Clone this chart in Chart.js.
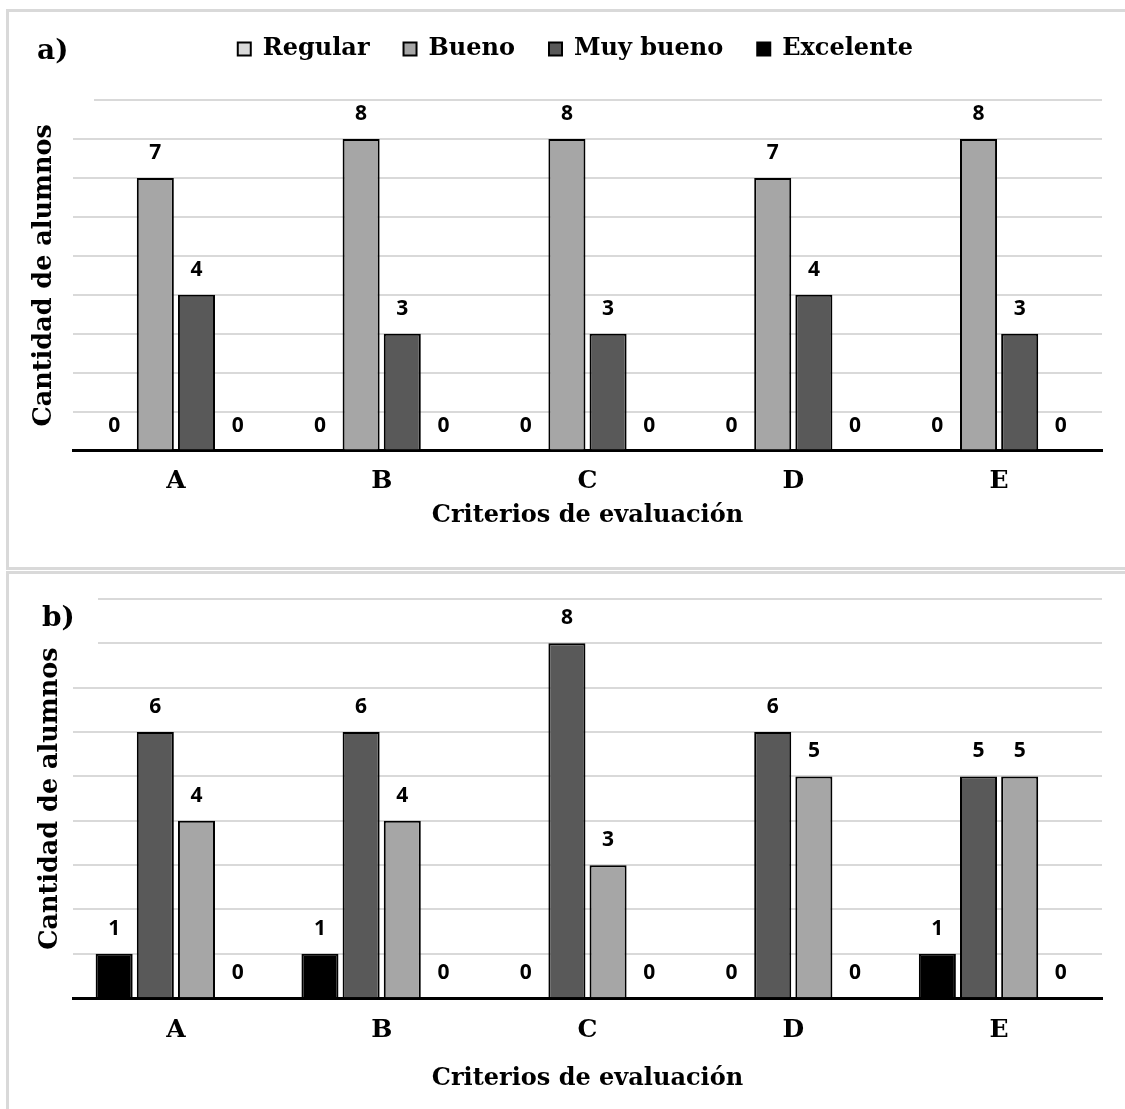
<!DOCTYPE html>
<html>
<head>
<meta charset="utf-8">
<script src="https://cdn.jsdelivr.net/npm/chart.js@4.4.1/dist/chart.umd.min.js"></script>
<style>
  html, body { margin: 0; padding: 0; background: #fff; }
  body { width: 1125px; height: 1109px; position: relative; overflow: hidden; }
  .frame { position: absolute; border: 3px solid #d9d9d9; border-right: none; }
  #frameA { left: 6px; top: 9px; width: 1125px; height: 555px; }
  #frameB { left: 6px; top: 571px; width: 1125px; height: 560px; border-bottom: none; }
  .box { position: absolute; left: 0; width: 1125px; }
  #boxA { top: 0; height: 567px; }
  #boxB { top: 572px; height: 537px; }
  .tag { position: absolute; font: bold 28px "DejaVu Serif", serif; line-height: 32px; color: #000; z-index: 2; }
  #tagA { left: 37px; top: 34px; }
  #tagB { left: 42px; top: 601px; }
  .cover { position: absolute; background: #fff; z-index: 2; }
  #coverA { left: 70px; top: 94px; width: 24px; height: 12px; }
  #coverB { left: 70px; top: 590px; width: 28px; height: 60px; }
</style>
</head>
<body>
<div class="frame" id="frameA"></div>
<div class="frame" id="frameB"></div>
<div class="box" id="boxA"><canvas id="chartA" width="1125" height="567"></canvas></div>
<div class="box" id="boxB"><canvas id="chartB" width="1125" height="537"></canvas></div>
<div class="cover" id="coverA"></div>
<div class="cover" id="coverB"></div>
<div class="tag" id="tagA">a)</div>
<div class="tag" id="tagB">b)</div>
<script>
// categories and series
const categories = ['A', 'B', 'C', 'D', 'E'];
const seriesNames = ['Regular', 'Bueno', 'Muy bueno', 'Excelente'];
const seriesColors = ['#d9d9d9', '#a6a6a6', '#595959', '#000000'];

// chart a)
const regularA = [0, 0, 0, 0, 0];
const buenoA = [7, 8, 8, 7, 8];
const muyBuenoA = [4, 3, 3, 4, 3];
const excelenteA = [0, 0, 0, 0, 0];

// chart b) (series drawn in reverse order)
const excelenteB = [1, 1, 0, 0, 1];
const muyBuenoB = [6, 6, 8, 6, 5];
const buenoB = [4, 4, 3, 5, 5];
const regularB = [0, 0, 0, 0, 0];

const yMax = 9;
const yStep = 1;

const xTitle = 'Criterios de evaluación';
const yTitle = 'Cantidad de alumnos';

Chart.defaults.font.family = '"DejaVu Serif", serif';
Chart.defaults.font.weight = 'bold';
Chart.defaults.color = '#000';

// numbers above every bar
const valueLabels = {
    id: 'valueLabels',
    afterDatasetsDraw(chart) {
        const ctx = chart.ctx;
        ctx.save();
        ctx.font = 'bold 21px "Open Sans"';
        ctx.fillStyle = '#000';
        ctx.textAlign = 'center';
        ctx.textBaseline = 'middle';
        chart.data.datasets.forEach((ds, i) => {
            chart.getDatasetMeta(i).data.forEach((bar, j) => {
                ctx.fillText(String(ds.data[j]), bar.x, bar.y - 25);
            });
        });
        ctx.restore();
    }
};

// extra room under the legend, and nudge it right a little
const legendGap = {
    id: 'legendGap',
    beforeInit(chart) {
        if (!chart.legend) return;
        const fit = chart.legend.fit;
        chart.legend.fit = function () {
            fit.call(this);
            this.height += 29;
        };
    },
    afterLayout(chart) {
        if (!chart.legend) return;
        chart.legend.left += 12;
        chart.legend.right += 12;
    }
};

function dataset(name, values) {
    const idx = seriesNames.indexOf(name);
    return {
        label: name,
        data: values,
        backgroundColor: seriesColors[idx],
        borderColor: '#000',
        borderWidth: 2
    };
}

function makeOptions(pad, tickPad, xTitlePad, yTitlePad, showLegend) {
    return {
        responsive: false,
        animation: false,
        devicePixelRatio: 1,
        layout: { padding: pad },
        plugins: {
            legend: {
                display: showLegend,
                position: 'top',
                labels: {
                    boxWidth: 13,
                    boxHeight: 13,
                    padding: 34,
                    font: { size: 24, weight: 'bold' }
                }
            },
            tooltip: { enabled: false }
        },
        scales: {
            x: {
                z: 1,
                grid: { display: false, drawTicks: false },
                border: { color: '#000', width: 3 },
                ticks: { padding: tickPad, font: { size: 25, weight: 'bold' } },
                title: {
                    display: true,
                    text: xTitle,
                    font: { size: 24, weight: 'bold' },
                    padding: xTitlePad
                }
            },
            y: {
                min: 0,
                max: yMax,
                ticks: { display: false, stepSize: yStep },
                grid: { color: '#d9d9d9', lineWidth: 2, drawTicks: false },
                border: { display: false },
                title: {
                    display: true,
                    text: yTitle,
                    font: { size: 25.5, weight: 'bold' },
                    padding: yTitlePad
                }
            }
        }
    };
}

new Chart(document.getElementById('chartA'), {
    type: 'bar',
    data: {
        labels: categories,
        datasets: [
            dataset('Regular', regularA),
            dataset('Bueno', buenoA),
            dataset('Muy bueno', muyBuenoA),
            dataset('Excelente', excelenteA)
        ]
    },
    options: makeOptions(
        { left: 24.7, right: 23, top: 3, bottom: 33 },
        16,
        { top: -11.4, bottom: 4 },
        { top: 4, bottom: 13.7 },
        true
    ),
    plugins: [legendGap, valueLabels]
});

new Chart(document.getElementById('chartB'), {
    type: 'bar',
    data: {
        labels: categories,
        datasets: [
            dataset('Excelente', excelenteB),
            dataset('Muy bueno', muyBuenoB),
            dataset('Bueno', buenoB),
            dataset('Regular', regularB)
        ]
    },
    options: makeOptions(
        { left: 30.7, right: 23, top: 27, bottom: 12 },
        17,
        { top: 2, bottom: 4 },
        { top: 4, bottom: 7.7 },
        false
    ),
    plugins: [valueLabels]
});
</script>
</body>
</html>
